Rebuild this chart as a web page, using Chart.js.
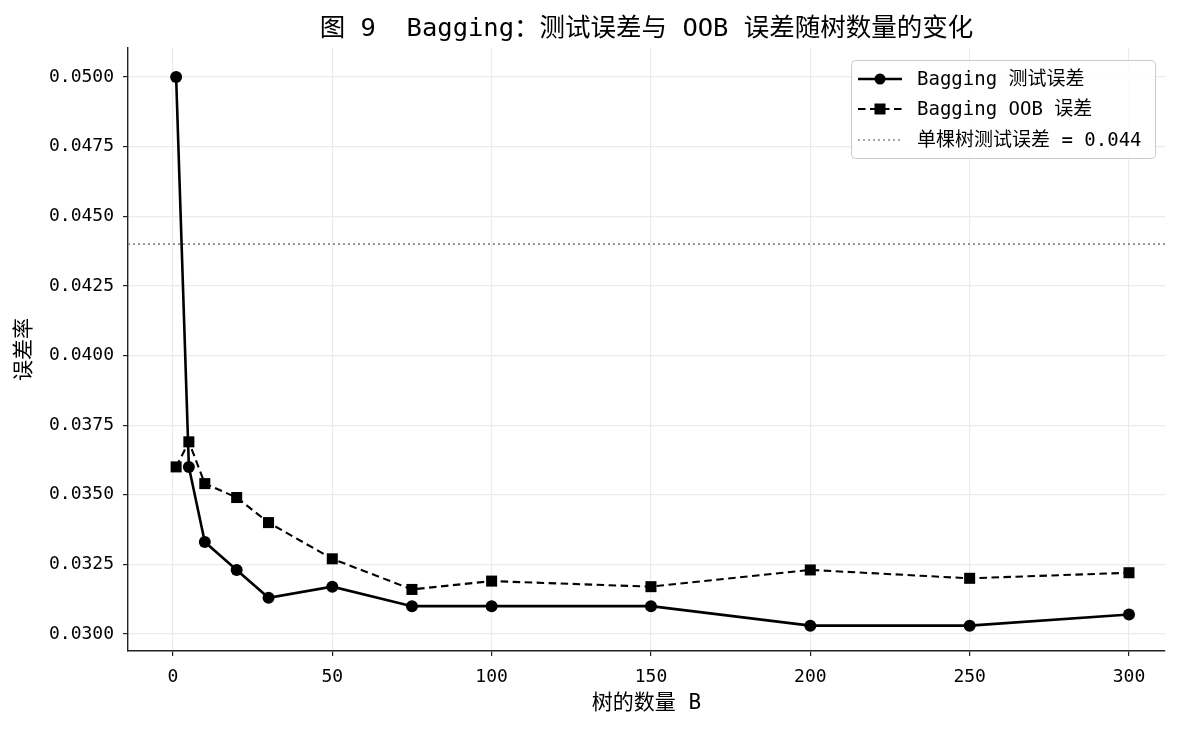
<!DOCTYPE html>
<html>
<head>
<meta charset="utf-8">
<script src="https://cdn.jsdelivr.net/npm/chart.js@4.4.1/dist/chart.umd.min.js"></script>
<style>
  html, body { margin: 0; padding: 0; background: #fff; }
  #wrap { width: 1180px; height: 730px; }
</style>
</head>
<body>
<div id="wrap"><canvas id="grafico"></canvas></div>
<script>
const FONT = "'DejaVu Sans Mono', 'Noto Sans CJK SC', monospace";

const treeCounts = [1, 5, 10, 20, 30, 50, 75, 100, 150, 200, 250, 300];
const testError = [0.0500, 0.0360, 0.0333, 0.0323, 0.0313, 0.0317, 0.0310, 0.0310, 0.0310, 0.0303, 0.0303, 0.0307];
const oobError = [0.0360, 0.0369, 0.0354, 0.0349, 0.0340, 0.0327, 0.0316, 0.0319, 0.0317, 0.0323, 0.0320, 0.0322];
const singleTreeError = 0.044;

const xTicks = [0, 50, 100, 150, 200, 250, 300];
const yTicks = [0.0300, 0.0325, 0.0350, 0.0375, 0.0400, 0.0425, 0.0450, 0.0475, 0.0500];
const xRange = [-14.1, 311.3];
const yRange = [0.02939, 0.05104];

const labels = ["Bagging 测试误差", "Bagging OOB 误差", "单棵树测试误差 = 0.044"];

// titulo, eixos e legenda desenhados a mao
const decoracao = {
    id: "decoracao",
    afterDraw(chart) {
        const ctx = chart.ctx;
        const area = chart.chartArea;
        ctx.save();
        ctx.fillStyle = "#000";
        ctx.textAlign = "center";
        ctx.textBaseline = "middle";
        ctx.font = "25.5px " + FONT;
        ctx.fillText("图 9  Bagging：测试误差与 OOB 误差随树数量的变化", (area.left + area.right) / 2, 29);

        ctx.font = "21px " + FONT;
        ctx.fillText("树的数量 B", (area.left + area.right) / 2, 704);

        ctx.save();
        ctx.translate(25, (area.top + area.bottom) / 2);
        ctx.rotate(-Math.PI / 2);
        ctx.fillText("误差率", 0, 0);
        ctx.restore();

        // legenda
        const bx = 851, by = 60, bw = 304, bh = 98;
        ctx.fillStyle = "rgba(255,255,255,0.85)";
        ctx.strokeStyle = "#cccccc";
        ctx.lineWidth = 1;
        ctx.beginPath();
        ctx.roundRect(bx + 0.5, by + 0.5, bw, bh, 4);
        ctx.fill();
        ctx.stroke();

        const rows = [79, 109, 140];
        chart.data.datasets.forEach((ds, i) => {
            const y = rows[i];
            ctx.strokeStyle = ds.borderColor;
            ctx.lineWidth = ds.borderWidth;
            ctx.setLineDash(ds.borderDash || []);
            ctx.beginPath();
            ctx.moveTo(858, y);
            ctx.lineTo(902, y);
            ctx.stroke();
            ctx.setLineDash([]);
            ctx.fillStyle = "#000";
            if (ds.pointStyle === "circle" && ds.pointRadius > 0) {
                ctx.beginPath();
                ctx.arc(880, y, 5.5, 0, Math.PI * 2);
                ctx.fill();
            } else if (ds.pointStyle === "rect" && ds.pointRadius > 0) {
                ctx.fillRect(874.5, y - 5.5, 11, 11);
            }
            ctx.textAlign = "left";
            ctx.font = "19px " + FONT;
            ctx.fillText(ds.label, 917, y + 1);
        });
        ctx.restore();
    }
};

new Chart(document.getElementById("grafico"), {
    type: "line",
    data: {
        datasets: [{
            label: labels[0],
            data: treeCounts.map((b, i) => ({ x: b, y: testError[i] })),
            borderColor: "#000",
            backgroundColor: "#000",
            borderWidth: 2.6,
            pointStyle: "circle",
            pointRadius: 6,
            pointBorderWidth: 0,
            pointHoverRadius: 6
        }, {
            label: labels[1],
            data: treeCounts.map((b, i) => ({ x: b, y: oobError[i] })),
            borderColor: "#000",
            backgroundColor: "#000",
            borderWidth: 2.1,
            borderDash: [7.5, 4.5],
            pointStyle: "rect",
            pointRadius: 7.8,
            pointBorderWidth: 0,
            pointHoverRadius: 7.8
        }, {
            label: labels[2],
            data: xRange.map(x => ({ x: x, y: singleTreeError })),
            borderColor: "#888888",
            backgroundColor: "#888888",
            borderWidth: 1.7,
            borderDash: [2, 3],
            pointRadius: 0
        }]
    },
    options: {
        responsive: true,
        maintainAspectRatio: false,
        animation: false,
        layout: { padding: { left: 0, right: 15, top: 48, bottom: 0 } },
        plugins: {
            legend: { display: false },
            title: { display: false },
            tooltip: { enabled: false }
        },
        scales: {
            x: {
                type: "linear",
                min: xRange[0],
                max: xRange[1],
                afterBuildTicks: scale => { scale.ticks = xTicks.map(v => ({ value: v })); },
                afterFit: scale => { scale.height = 79; },
                ticks: {
                    color: "#000",
                    font: { family: FONT, size: 18 },
                    padding: 11,
                    maxRotation: 0
                },
                grid: { color: "#ebebeb", lineWidth: 1.2, tickColor: "#222", tickLength: 5 },
                border: { color: "#222", width: 1.4 }
            },
            y: {
                type: "linear",
                min: yRange[0],
                max: yRange[1],
                afterBuildTicks: scale => { scale.ticks = yTicks.map(v => ({ value: v })); },
                afterFit: scale => { scale.width = 128; },
                ticks: {
                    color: "#000",
                    font: { family: FONT, size: 18 },
                    padding: 9,
                    callback: v => v.toFixed(4)
                },
                grid: { color: "#ebebeb", lineWidth: 1.2, tickColor: "#222", tickLength: 5 },
                border: { color: "#222", width: 1.4 }
            }
        }
    },
    plugins: [decoracao]
});
</script>
</body>
</html>
